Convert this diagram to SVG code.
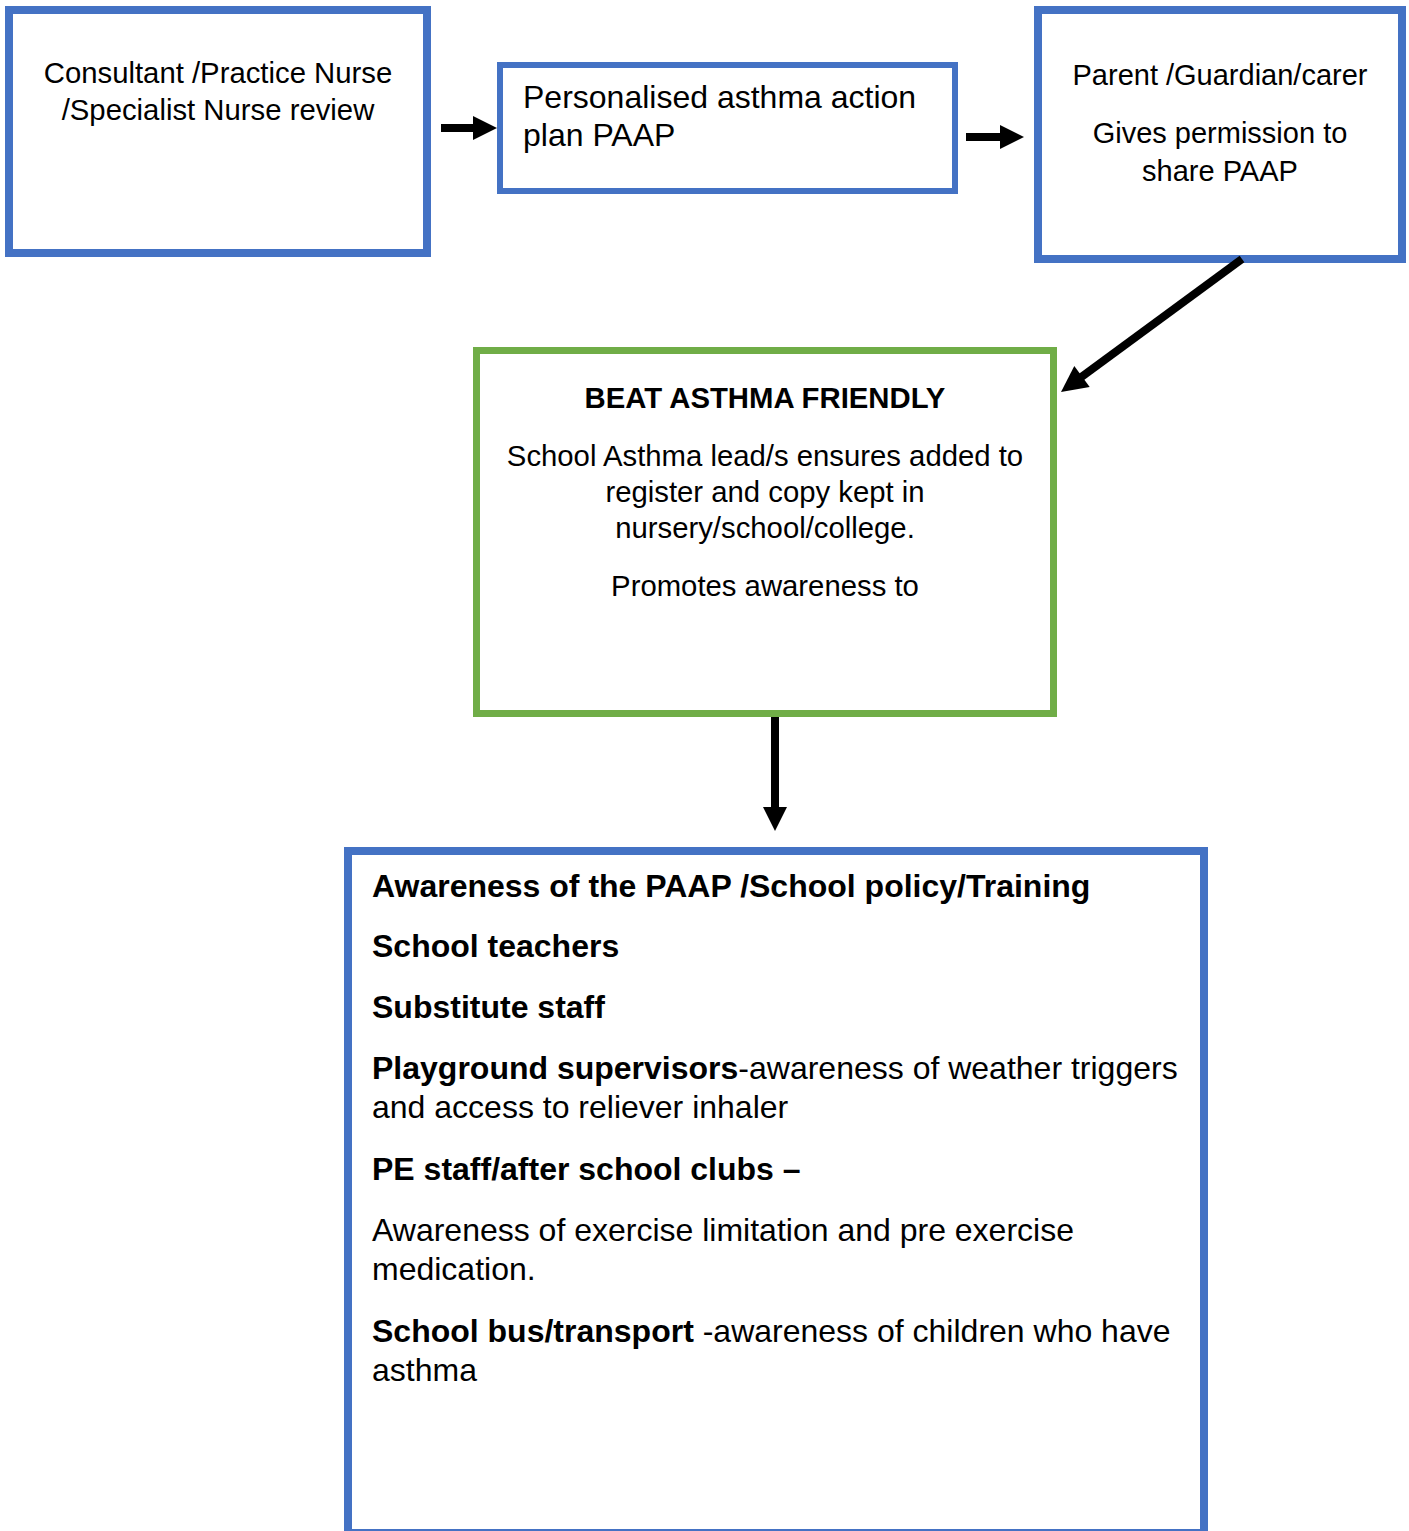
<svg xmlns="http://www.w3.org/2000/svg" width="1409" height="1531" viewBox="0 0 1409 1531">
<style>
.box{fill:#fff;stroke:#4472C4}
.gbox{fill:#fff;stroke:#70AD47;stroke-width:7}
text{font-family:"Liberation Sans",Arial,sans-serif;fill:#000}
.t29{font-size:29px}
.t29w{font-size:29.3px}
.t32{font-size:32px}
.b{font-weight:bold}
.c{text-anchor:middle}
.conn{stroke:#000;stroke-width:8;fill:none}
.head{fill:#000;stroke:none}
</style>
<rect width="1409" height="1531" fill="#fff"/>
<g id="node-review">
<rect class="box" x="9" y="10" width="418" height="243" stroke-width="8"/>
<text class="t29w c" x="218" y="83">Consultant /Practice Nurse</text>
<text class="t29w c" x="218" y="120">/Specialist Nurse review</text>
</g>
<g id="node-paap">
<rect class="box" x="500" y="65" width="455" height="126" stroke-width="6"/>
<text class="t32" x="523" y="108">Personalised asthma action</text>
<text class="t32" x="523" y="146">plan PAAP</text>
</g>
<g id="node-parent">
<rect class="box" x="1038" y="10" width="364" height="249" stroke-width="8"/>
<text class="t29 c" x="1220" y="85">Parent /Guardian/carer</text>
<text class="t29 c" x="1220" y="143">Gives permission to</text>
<text class="t29 c" x="1220" y="181">share PAAP</text>
</g>
<g id="node-beat">
<rect class="gbox" x="476.5" y="350.5" width="577" height="363"/>
<text class="t29w c b" x="765" y="408">BEAT ASTHMA FRIENDLY</text>
<text class="t29w c" x="765" y="466">School Asthma lead/s ensures added to</text>
<text class="t29w c" x="765" y="502">register and copy kept in</text>
<text class="t29w c" x="765" y="538">nursery/school/college.</text>
<text class="t29w c" x="765" y="596">Promotes awareness to</text>
</g>
<g id="node-awareness">
<rect class="box" x="348" y="851" width="856" height="682" stroke-width="8"/>
<text class="t32 b" x="372" y="897">Awareness of the PAAP /School policy/Training</text>
<text class="t32 b" x="372" y="957">School teachers</text>
<text class="t32 b" x="372" y="1018">Substitute staff</text>
<text class="t32" x="372" y="1079"><tspan class="b">Playground supervisors</tspan>-awareness of weather triggers</text>
<text class="t32" x="372" y="1118">and access to reliever inhaler</text>
<text class="t32 b" x="372" y="1180">PE staff/after school clubs –</text>
<text class="t32" x="372" y="1241">Awareness of exercise limitation and pre exercise</text>
<text class="t32" x="372" y="1280">medication.</text>
<text class="t32" x="372" y="1342"><tspan class="b">School bus/transport</tspan> -awareness of children who have</text>
<text class="t32" x="372" y="1381">asthma</text>
</g>
<g id="connectors">
<line class="conn" x1="441" y1="128" x2="475" y2="128"/>
<polygon class="head" points="473,116 497,128 473,140"/>
<line class="conn" x1="966" y1="137" x2="1002" y2="137"/>
<polygon class="head" points="1000,125 1024,137 1000,149"/>
<line class="conn" x1="1242" y1="259" x2="1080" y2="378"/>
<polygon class="head" points="1074.3,366.1 1061,392 1089.7,387.1"/>
<line class="conn" x1="775" y1="717" x2="775" y2="809"/>
<polygon class="head" points="763,807 775,831 787,807"/>
</g>
</svg>
